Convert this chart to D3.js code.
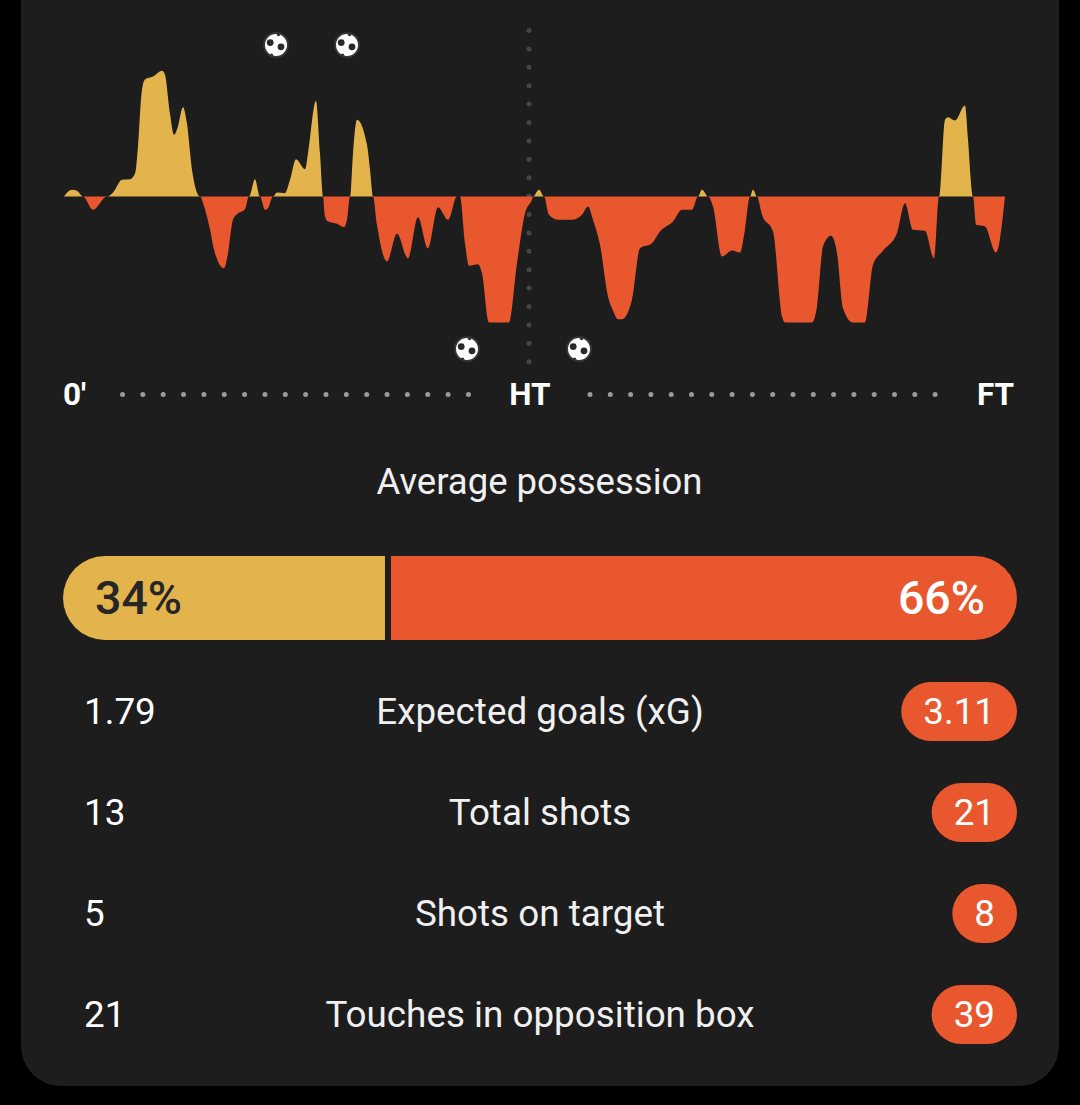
<!DOCTYPE html>
<html><head><meta charset="utf-8">
<script src="https://cdn.jsdelivr.net/npm/d3@7"></script>
<style>html,body{margin:0;padding:0;background:#000}svg{display:block}text{font-family:Roboto,sans-serif}</style>
</head><body><svg id="c" width="1080" height="1105"></svg>
<script>
const momentumTime=[0,8,13,19,29,43,49,58,66,71,74,78,81,89,98,101,106,110,114,119,123,128,136,141,146,150,160,164,169,173,181,185,191,196,201,204,209,213,221,226,232,241,244,252,256,259,261,264,273,280,283,286,289,293,303,306,309,313,323,333,344,354,364,374,384,393,396,401,405,414,418,425,445,453,461,468,469,475,480,485,494,508,518,524,529,536,544,549,554,558,568,576,588,596,609,618,628,634,638,644,649,658,668,676,681,686,689,693,698,709,718,721,748,753,759,767,773,779,789,801,809,819,833,841,849,861,870,875,881,884,891,901,904,909,912,921,932,941];
const momentumValue=[0,6.7,5.7,0,-13.3,0,4,16.7,17.3,23,50,107,117,120,125.7,121.7,83,61.7,70,89.3,73,26.7,0,-13,-33,-53,-71.7,-57,-23,-17.7,-12.7,0,17.3,0,-13.3,-11.7,0,4,3.3,16.7,37.3,27.3,43,95.7,43,0,-20,-25,-27.3,-30.7,-23,0,43,76.7,51.7,26.7,0,-28.3,-65,-37.3,-61.7,-20.7,-51.7,-10.7,-23.3,0,0,-46.7,-69.3,-67.7,-76.7,-126,-126,-66.7,-16.7,-3,0,6.7,0,-18.3,-23.3,-23.3,-18.3,-10,-23.3,-48.3,-100,-114,-122.7,-122.7,-103.3,-51.7,-46.7,-35,-25,-13.3,-13.3,0,6.7,0,-10,-60,-54,-56,-33,0,6.7,0,-18.3,-35,-120,-126,-126,-110,-50,-39.3,-56.7,-111.7,-126,-126,-68.3,-54.3,-36.7,-6.7,-33.3,-34.3,-61.7,0,76.7,79.3,76,91,56.7,0,-28.3,-30,-56,0];
const homeGoals=[212,283];
const awayGoals=[403,515];
const halfTime=465;
const timeLabels=["0'","HT","FT"];
const possessionLabels=["34%","66%"];
const possessionValues=[34,66];
const statNames=["Expected goals (xG)","Total shots","Shots on target","Touches in opposition box"];
const homeStats=["1.79","13","5","21"];
const awayStats=["3.11","21","8","39"];

const YEL="#e3b44c",ORG="#e8572e",BG="#1d1d1d";
const svg=d3.select("#c");
svg.append("path").attr("fill",BG)
  .attr("d","M21,-40H1059V1046A40,40 0 0 1 1019,1086H61A40,40 0 0 1 21,1046Z");

const x=d3.scaleLinear().domain([0,941]).range([64,1005]);
const y=d3.scaleLinear().domain([-126,126]).range([322.5,70.5]);
const pts=momentumTime.map((t,i)=>({t,v:momentumValue[i]}));
svg.append("g").selectAll("circle").data(d3.range(0,19)).join("circle")
  .attr("cx",x(halfTime)).attr("cy",i=>30.5+i*18.4).attr("r",2.5).attr("fill","#454545");
const area=f=>d3.area().x(d=>x(d.t)).y0(y(0)).y1(d=>y(f(d.v))).curve(d3.curveMonotoneX);
svg.append("path").datum(pts).attr("fill",ORG).attr("d",area(v=>Math.min(v,0)));
svg.append("path").datum(pts).attr("fill",YEL).attr("d",area(v=>Math.max(v,0)));

function ball(g){
  g.append("circle").attr("r",13).attr("fill","#363636");
  g.append("circle").attr("r",11).attr("fill","#fff");
  g.append("circle").attr("cx",-5.8).attr("cy",-2.4).attr("r",3.4).attr("fill","#2a2a2a");
  g.append("circle").attr("cx",5).attr("cy",1.8).attr("r",3.4).attr("fill","#2a2a2a");
  g.append("circle").attr("cx",2.5).attr("cy",-10.6).attr("r",1.8).attr("fill","#363636");
  g.append("circle").attr("cx",-4.5).attr("cy",10.4).attr("r",1.8).attr("fill","#363636");
}
svg.append("g").selectAll("g").data(homeGoals).join("g").attr("transform",d=>`translate(${x(d)},45)`).each(function(){ball(d3.select(this))});
svg.append("g").selectAll("g").data(awayGoals).join("g").attr("transform",d=>`translate(${x(d)},349)`).each(function(){ball(d3.select(this))});

const axisDots=[...d3.range(18).map(i=>122.5+i*20.35),...d3.range(18).map(i=>590+i*20.3)];
svg.append("g").selectAll("circle").data(axisDots).join("circle")
  .attr("cx",d=>d).attr("cy",394.5).attr("r",2.5).attr("fill","#9a9a9a");
const tl=[[63,"start"],[530,"middle"],[1014,"end"]];
svg.append("g").selectAll("text").data(timeLabels).join("text")
  .attr("x",(d,i)=>tl[i][0]).attr("y",405).attr("text-anchor",(d,i)=>tl[i][1])
  .attr("font-size",31.5).attr("font-weight",700).attr("fill","#fff").text(d=>d);

svg.append("text").attr("x",539.5).attr("y",494).attr("text-anchor","middle")
  .attr("font-size",36.5).attr("fill","#f0f0f0").text("Average possession");

const px=d3.scaleLinear().domain([0,100]).range([63,1017]);
const defs=svg.append("defs");
defs.append("clipPath").attr("id","pill").append("rect")
  .attr("x",63).attr("y",556).attr("width",954).attr("height",84).attr("rx",42);
const pg=svg.append("g").attr("clip-path","url(#pill)");
pg.append("rect").attr("x",px(0)).attr("y",556).attr("height",84).attr("width",px(possessionValues[0])-px(0)-2.4).attr("fill",YEL);
pg.append("rect").attr("x",px(possessionValues[0])+3.6).attr("y",556).attr("height",84).attr("width",px(100)-px(possessionValues[0])-3.6).attr("fill",ORG);
svg.append("text").attr("x",95).attr("y",613.5).attr("font-size",46.5).attr("font-weight",500).attr("fill","#262626").text(possessionLabels[0]);
svg.append("text").attr("x",985).attr("y",613.5).attr("text-anchor","end").attr("font-size",46.5).attr("font-weight",500).attr("fill","#fff").text(possessionLabels[1]);

const rowY=d3.scalePoint().domain(statNames).range([711,1014]);
const rows=svg.append("g").selectAll("g").data(statNames).join("g").attr("transform",d=>`translate(0,${rowY(d)})`);
rows.append("text").attr("x",84).attr("y",13).attr("font-size",36.8).attr("fill","#fff").text((d,i)=>homeStats[i]);
rows.append("text").attr("x",540).attr("y",13).attr("text-anchor","middle").attr("font-size",36.8).attr("fill","#f0f0f0").text(d=>d);
rows.each(function(d,i){
  const g=d3.select(this);
  const t=g.append("text").attr("x",0).attr("y",13).attr("font-size",36.8).attr("fill","#fff").attr("text-anchor","middle").text(awayStats[i]);
  const w=t.node().getComputedTextLength();
  const pw=Math.max(63,w+44);
  g.insert("rect","text").attr("x",1017-pw).attr("y",-29).attr("width",pw).attr("height",59).attr("rx",29.5).attr("fill",ORG);
  t.attr("x",1017-pw/2);
});
</script>
</body></html>
